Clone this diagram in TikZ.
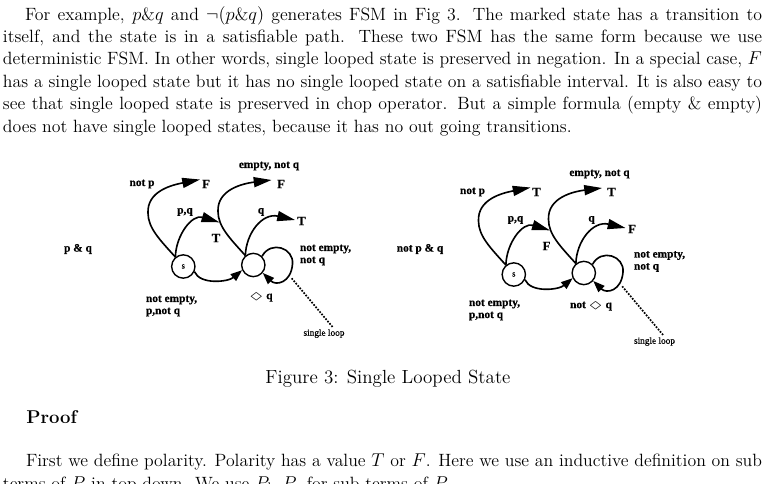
\documentclass[tikz,border=0pt]{standalone}
\usepackage{fontspec}
\usepackage{amssymb}
\usepackage{graphicx}
\usetikzlibrary{arrows.meta}
\newfontfamily\figfont[FakeBold=0.6]{Liberation Serif}
\newlength{\pxu}\setlength{\pxu}{0.6472pt}
\newcommand{\dia}{\scalebox{1.6}[0.85]{$\Diamond$}}
\tikzset{
  body/.style={anchor=base west, inner sep=0pt, outer sep=0pt, font=\fontsize{11.5}{14}\selectfont},
  lab/.style={inner sep=0pt, outer sep=0pt, font=\figfont\bfseries\fontsize{7.35}{7.8}\selectfont},
  tflab/.style={inner sep=0pt, outer sep=0pt, font=\figfont\bfseries\fontsize{8.2}{8.2}\selectfont},
  tinylab/.style={inner sep=0pt, outer sep=0pt, font=\figfont\fontsize{6}{6}\selectfont},
  state/.style={circle, draw, line width=0.9pt, minimum size=15.1pt, inner sep=0pt},
  trans/.style={line width=1.05pt, -{Triangle[length=11.5pt,width=6.5pt]}},
  transs/.style={line width=1.05pt, -{Triangle[length=7.5pt,width=5.5pt]}},
  ptr/.style={line width=1.1pt, dash pattern=on 1.1pt off 0.9pt},
}
\newcommand{\fsmdraw}[4]{%
  \node[state] (s) at (183.3,266.5) {\figfont\fontsize{5.5}{5.5}\selectfont s};
  \node[state] (c) at (253.3,265) {};
  \coordinate (tA) at (200,179.5);
  \coordinate (tB) at (219.3,222.3);
  \coordinate (tC) at (271.5,180);
  \coordinate (tD) at (295,220);
  \coordinate (ld) at (291.7,278.3);
  \coordinate (le) at (333,327.5);
  \node[lab] (nA) at (142,184) {not p};
  \node[tflab] (fA) at (206,184) {#1};
  \node[lab] (pq) at (185,212) {p,q};
  \node[tflab] (fB) at (216,238) {#2};
  \node[lab] (en) at (269,166) {empty, not q};
  \node[tflab] (fC) at (281,184) {#3};
  \node[lab] (qq) at (261,212) {q};
  \node[tflab] (fD) at (301.5,221) {#4};
  \node[tinylab] (sl) at (324,333.5) {single loop};
  \draw[trans] (s.130) .. controls (160,240) and (148,228) .. (148,213)
                       .. controls (147,191) and (172,185) .. (tA);
  \draw[trans] (s.130) .. controls (176,235) and (192,214) .. (tB);
  \draw[trans] (c.130) .. controls (230,238.5) and (218,226.5) .. (218,211.5)
                       .. controls (217,189.5) and (243,183.5) .. (tC);
  \draw[trans] (c.130) .. controls (246,233.5) and (262,212.5) .. (tD);
  \draw[transs] (s.-25) .. controls (200,285) and (228,282) .. (c.205);
  \draw[transs] (c.45) .. controls (271,240) and (294,248) .. (292.5,264)
                       .. controls (291,283) and (276,286) .. (c.-40);
  \draw[ptr] (ld) -- (le);
}
\begin{document}
\begin{tikzpicture}[x=0.6472pt, y=-0.6472pt]
\useasboundingbox (0,0) rectangle (766,483);
% top paragraph
\node[body] (l1) at (25,20) {\makebox[737\pxu][s]{For example, $p\&q$ and $\neg(p\&q)$ generates FSM in Fig 3. The marked state has a transition to}};
\node[body] (l2) at (3,42.4) {\makebox[759\pxu][s]{itself, and the state is in a satisfiable path. These two FSM has the same form because we use}};
\node[body] (l3) at (3,64.8) {\makebox[759\pxu][s]{deterministic FSM. In other words, single looped state is preserved in negation. In a special case, $F$}};
\node[body] (l4) at (3,87.2) {\makebox[759\pxu][s]{has a single looped state but it has no single looped state on a satisfiable interval. It is also easy to}};
\node[body] (l5) at (3,109.6) {\makebox[759\pxu][s]{see that single looped state is preserved in chop operator. But a simple formula (empty \& empty)}};
\node[body] (l6) at (3,132) {does not have single looped states, because it has no out going transitions.};
% diagrams
\begin{scope}[name prefix=L-]
  \fsmdraw{F}{T}{F}{T}
\end{scope}
\begin{scope}[name prefix=R-, shift={(330.5,8)}]
  \fsmdraw{T}{F}{T}{F}
\end{scope}
\node[lab] (Lpq) at (78,249) {p \& q};
\node[lab, anchor=west, align=left] (Lne) at (300,255) {not empty,\\not q};
\node[lab] (Ldq) at (261,297) {\dia\ q};
\node[lab, anchor=west, align=left] (Lnp) at (146,306) {not empty,\\p,not q};
\node[lab] (Rpq) at (420,249) {not p \& q};
\node[lab, anchor=west, align=left] (Rne) at (634,261.5) {not empty,\\not q};
\node[lab] (Rdq) at (591,306) {not \dia\ q};
\node[lab, anchor=west, align=left] (Rnp) at (469,310) {not empty,\\p,not q};
% caption and following text
\node[anchor=base, inner sep=0pt, font=\fontsize{12.3}{14.5}\selectfont] (cap) at (388,383) {Figure 3: Single Looped State};
\node[anchor=base west, inner sep=0pt, font=\bfseries\fontsize{12}{14.5}\selectfont] (proof) at (26,423.3) {Proof};
\node[body] (b1) at (26,466.7) {\makebox[736\pxu][s]{First we define polarity. Polarity has a value $T$ or $F$. Here we use an inductive definition on sub}};
\node[body] (b2) at (3,489.1) {terms of $P$ in top down. We use $P_l$, $P_r$ for sub terms of $P$.};
\end{tikzpicture}
\end{document}
